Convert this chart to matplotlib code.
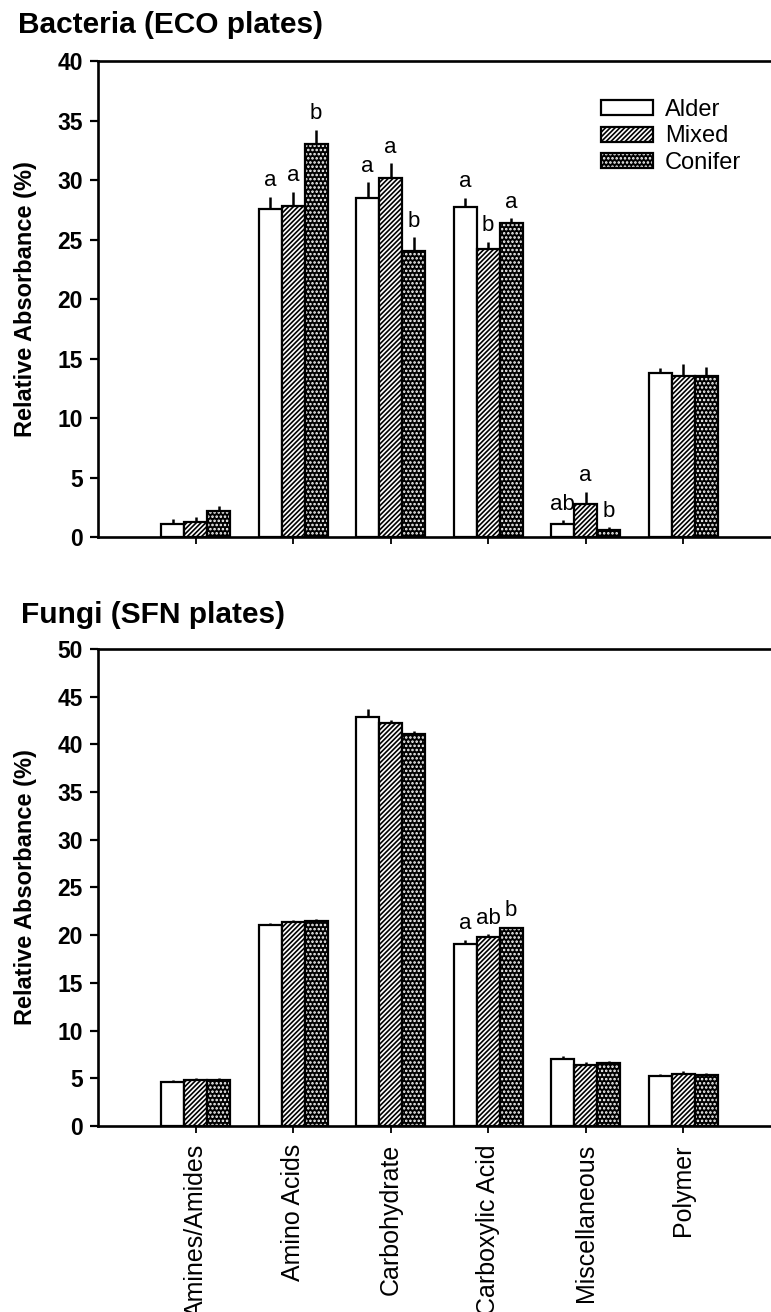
"""
Relative absorbance by substrate guild — bacteria (ECO) and fungi (SFN) plates.
"""

import numpy as np
import matplotlib.pyplot as plt
from matplotlib.patches import Patch

plt.rcParams["font.family"] = ["Liberation Sans", "DejaVu Sans"]
plt.rcParams["hatch.linewidth"] = 1.2

categories = ["Amines/Amides", "Amino Acids", "Carbohydrate",
              "Carboxylic Acid", "Miscellaneous", "Polymer"]
series = ["Alder", "Mixed", "Conifer"]

# Bacteria (ECO plates)
eco_alder = [1.1, 27.6, 28.5, 27.7, 1.1, 13.8]
eco_mixed = [1.3, 27.8, 30.2, 24.2, 2.8, 13.5]
eco_conifer = [2.2, 33.0, 24.0, 26.4, 0.6, 13.5]
eco_alder_err = [0.4, 1.0, 1.3, 0.8, 0.3, 0.4]
eco_mixed_err = [0.4, 1.2, 1.2, 0.6, 1.0, 1.0]
eco_conifer_err = [0.4, 1.2, 1.2, 0.4, 0.2, 0.8]
eco_alder_lbl = ["", "a", "a", "a", "ab", ""]
eco_mixed_lbl = ["", "a", "a", "b", "a", ""]
eco_conifer_lbl = ["", "b", "b", "a", "b", ""]

# Fungi (SFN plates)
sfn_alder = [4.6, 21.1, 42.9, 19.1, 7.0, 5.2]
sfn_mixed = [4.8, 21.4, 42.2, 19.8, 6.4, 5.45]
sfn_conifer = [4.8, 21.5, 41.1, 20.7, 6.6, 5.3]
sfn_alder_err = [0.2, 0.2, 0.8, 0.4, 0.3, 0.2]
sfn_mixed_err = [0.2, 0.2, 0.4, 0.3, 0.3, 0.3]
sfn_conifer_err = [0.2, 0.2, 0.3, 0.2, 0.2, 0.3]
sfn_alder_lbl = ["", "", "", "a", "", ""]
sfn_mixed_lbl = ["", "", "", "ab", "", ""]
sfn_conifer_lbl = ["", "", "", "b", "", ""]

width = 0.236
x = np.arange(len(categories))
DOTS = "...."


def draw_bars(ax, vals, errs, lbls):
    offsets = [-width, 0, width]
    for i, (v, e, l) in enumerate(zip(vals, errs, lbls)):
        pos = x + offsets[i]
        # upper error bar only; bar covers the rest
        ax.errorbar(pos, v, yerr=[np.zeros(len(e)), e], fmt="none",
                    ecolor="black", elinewidth=1.8, capsize=0, zorder=1)
        if i == 0:
            ax.bar(pos, v, width, color="white", edgecolor="black",
                   linewidth=1.6, zorder=2)
        elif i == 1:
            ax.bar(pos, v, width, color="white", edgecolor="black",
                   hatch="///////", linewidth=1.6, zorder=2)
        else:
            ax.bar(pos, v, width, color="black", edgecolor="white",
                   hatch=DOTS, linewidth=0, zorder=2)
            ax.bar(pos, v, width, fill=False, edgecolor="black",
                   linewidth=1.6, zorder=3)
        for p, top, err, txt in zip(pos, v, e, l):
            if txt:
                ax.annotate(txt, (p, top + err), xytext=(0, 4),
                            textcoords="offset points", ha="center",
                            va="bottom", fontsize=16)


def style_axes(ax, ymax):
    ax.set_xlim(-1.0, 5.9)
    ax.set_ylim(0, ymax)
    ax.set_yticks(np.arange(0, ymax + 1, 5))
    ax.set_xticks(x)
    ax.spines["right"].set_visible(False)
    for s in ["left", "top", "bottom"]:
        ax.spines[s].set_linewidth(1.9)
    ax.tick_params(axis="y", direction="out", length=6, width=1.6,
                   labelsize=16.5, pad=5)
    ax.tick_params(axis="x", direction="out", length=5, width=1.3,
                   labelsize=18, pad=8)
    for t in ax.get_yticklabels():
        t.set_fontweight("bold")
    ax.set_ylabel("Relative Absorbance (%)", fontsize=17, fontweight="bold")
    ax.yaxis.set_label_coords(-0.09, 0.5)


fig = plt.figure(figsize=(7.71, 13.12), dpi=100)
ax1 = fig.add_axes([0.1271, 0.5907, 0.8729, 0.3628])
ax2 = fig.add_axes([0.1271, 0.1418, 0.8729, 0.3636])

draw_bars(ax1, [eco_alder, eco_mixed, eco_conifer],
          [eco_alder_err, eco_mixed_err, eco_conifer_err],
          [eco_alder_lbl, eco_mixed_lbl, eco_conifer_lbl])
style_axes(ax1, 40)
ax1.set_xticklabels([])

draw_bars(ax2, [sfn_alder, sfn_mixed, sfn_conifer],
          [sfn_alder_err, sfn_mixed_err, sfn_conifer_err],
          [sfn_alder_lbl, sfn_mixed_lbl, sfn_conifer_lbl])
style_axes(ax2, 50)
ax2.set_xticklabels(categories, rotation=90, va="top")

fig.text(18 / 771, 1 - 33 / 1312, "Bacteria (ECO plates)", fontsize=21.5,
         fontweight="bold", ha="left", va="baseline")
fig.text(21 / 771, 1 - 623 / 1312, "Fungi (SFN plates)", fontsize=21.5,
         fontweight="bold", ha="left", va="baseline")

handles = [
    Patch(facecolor="white", edgecolor="black", linewidth=1.6),
    Patch(facecolor="white", edgecolor="black", hatch="///////", linewidth=1.6),
    (Patch(facecolor="black", edgecolor="white", hatch=DOTS, linewidth=0),
     Patch(fill=False, edgecolor="black", linewidth=1.6)),
]
ax1.legend(handles, series, loc="upper left", bbox_to_anchor=(0.748, 0.92),
           frameon=False, fontsize=17, handlelength=2.2, handleheight=0.6,
           labelspacing=0.18, handletextpad=0.5, borderaxespad=0,
           borderpad=0)

fig.savefig("out.png", dpi=100)
